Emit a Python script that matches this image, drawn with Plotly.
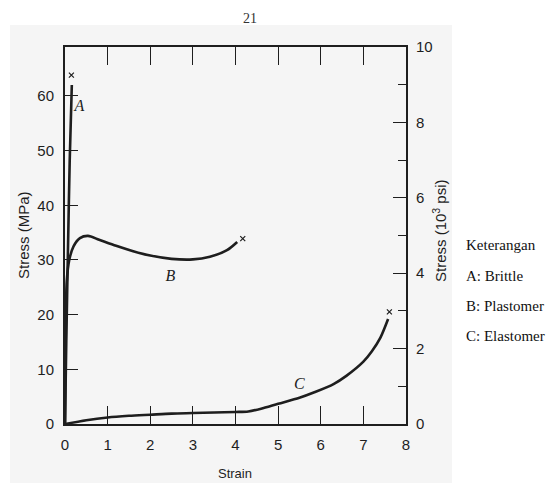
import plotly.graph_objects as go

# ---------------- data ----------------
strain_ticks = [0, 1, 2, 3, 4, 5, 6, 7, 8]
mpa_ticks = [0, 10, 20, 30, 40, 50, 60]
psi_ticks = [0, 2, 4, 6, 8, 10]

a_strain = [0, 0.03, 0.07, 0.11, 0.16]
a_stress = [0, 15, 32, 48, 62]

b_strain = [0, 0.015, 0.04, 0.1, 0.2, 0.35, 0.54, 0.8, 1.2, 1.6, 2.0, 2.5, 3.0, 3.4, 3.8, 4.04]
b_stress = [0, 14, 26, 30, 32.5, 34, 34.4, 33.7, 32.6, 31.6, 30.8, 30.2, 30.1, 30.6, 31.8, 33.3]

c_strain = [0, 0.5, 1.0, 1.5, 2.0, 2.5, 3.0, 3.5, 4.0, 4.3, 4.6, 5.0, 5.5, 5.85, 6.3, 6.6, 7.0, 7.2, 7.4, 7.58]
c_stress = [0, 0.7, 1.2, 1.5, 1.7, 1.9, 2.0, 2.1, 2.2, 2.3, 2.8, 3.7, 4.8, 5.8, 7.3, 8.8, 11.4, 13.3, 15.8, 19.2]

break_strain = [0.15, 4.17, 7.61]
break_stress = [63.8, 33.9, 20.5]

curve_labels = ["A", "B", "C"]
label_strain = [0.34, 2.47, 5.5]
label_stress = [58.0, 26.9, 7.2]

legend_lines = ["Keterangan", "A: Brittle", "B: Plastomer", "C: Elastomer"]
page_number = "21"

# ---------------- layout helpers ----------------
W, H = 557, 483
L, R, T, B = 65, 151, 47, 59
PW, PH = W - L - R, H - T - B
MPA_MAX = 68.95  # 10 ksi in MPa


def px(x, y):
    return (x - L) / PW, (H - B - y) / PH


INK = "#1e1e1e"
SANS = "Liberation Sans Narrow, Liberation Sans, Arial, sans-serif"
SANS_W = "Liberation Sans, Arial, sans-serif"
SERIF = "Liberation Serif, Times New Roman, serif"

fig = go.Figure()
for xs, ys in [(a_strain, a_stress), (b_strain, b_stress), (c_strain, c_stress)]:
    fig.add_trace(go.Scatter(x=xs, y=ys, mode="lines", line=dict(color=INK, width=2.6, shape="spline", smoothing=0.8),
                             showlegend=False, hoverinfo="skip"))
fig.add_trace(go.Scatter(x=break_strain, y=break_stress, mode="markers",
                         marker=dict(symbol="x-thin", size=5, line=dict(color=INK, width=1.2)),
                         showlegend=False, hoverinfo="skip"))
fig.add_trace(go.Scatter(x=label_strain, y=label_stress, mode="text", text=curve_labels,
                         textfont=dict(family=SERIF, size=16, color=INK, style="italic"),
                         showlegend=False, hoverinfo="skip"))
# empty trace so the right-hand axis is drawn
fig.add_trace(go.Scatter(x=[0], y=[0], yaxis="y2", mode="markers", marker=dict(opacity=0),
                         showlegend=False, hoverinfo="skip"))

annotations = []
# axis titles
x0, y0 = px(23, 235)
annotations.append(dict(x=x0, y=y0, text="Stress (MPa)", textangle=-90, showarrow=False,
                        font=dict(family=SANS_W, size=15, color=INK), xanchor="center", yanchor="middle"))
x0, y0 = px(439, 230)
annotations.append(dict(x=x0, y=y0, text="Stress (10<sup>3</sup> psi)", textangle=-90, showarrow=False,
                        font=dict(family=SANS_W, size=15, color=INK), xanchor="center", yanchor="middle"))
x0, y0 = px(235, 473)
annotations.append(dict(x=x0, y=y0, text="Strain", showarrow=False,
                        font=dict(family=SANS_W, size=13, color=INK), xanchor="center", yanchor="middle"))
# page number
x0, y0 = px(250, 19)
annotations.append(dict(x=x0, y=y0, text=page_number, showarrow=False,
                        font=dict(family=SERIF, size=14, color="#333"), xanchor="center", yanchor="middle"))
# legend text
for txt, yy in zip(legend_lines, [245, 276, 306, 336]):
    x0, y0 = px(464, yy)
    annotations.append(dict(x=x0, y=y0, text=txt, showarrow=False,
                            font=dict(family=SERIF, size=15, color="#111"), xanchor="left", yanchor="middle"))
for a in annotations:
    a.update(xref="paper", yref="paper")

sx0, sy0 = px(10, 25)
sx1, sy1 = px(452, 483)

fig.update_layout(
    width=W, height=H,
    margin=dict(l=L, r=R, t=T, b=B, pad=0),
    paper_bgcolor="white", plot_bgcolor="rgba(0,0,0,0)",
    shapes=[dict(type="rect", xref="paper", yref="paper", x0=sx0, y0=sy1, x1=sx1, y1=sy0,
                 fillcolor="#f5f5f5", line=dict(width=0), layer="below")],
    annotations=annotations,
    xaxis=dict(range=[0, 8], tickvals=strain_ticks, ticktext=[str(v) for v in strain_ticks],
               ticks="inside", ticklen=18, tickwidth=1.4, tickcolor=INK,
               showline=True, linewidth=2, linecolor=INK, mirror="ticks",
               showgrid=False, zeroline=False, ticklabelstandoff=6,
               tickfont=dict(family=SANS, size=15, color=INK)),
    yaxis=dict(range=[0, MPA_MAX], tickvals=mpa_ticks, ticktext=[str(v) for v in mpa_ticks],
               ticks="inside", ticklen=13, tickwidth=1.4, tickcolor=INK,
               showline=True, linewidth=2, linecolor=INK,
               showgrid=False, zeroline=False, ticklabelstandoff=6,
               tickfont=dict(family=SANS, size=15, color=INK)),
    yaxis2=dict(range=[0, 10], overlaying="y", side="right", tickvals=psi_ticks,
                ticktext=[str(v) for v in psi_ticks],
                ticks="inside", ticklen=13, tickwidth=1.4, tickcolor=INK,
                minor=dict(dtick=1, ticks="inside", ticklen=8, tickwidth=1.4, tickcolor=INK),
                showline=True, linewidth=2, linecolor=INK,
                showgrid=False, zeroline=False, ticklabelstandoff=5,
                tickfont=dict(family=SANS, size=15, color=INK)),
)

fig.write_html("out.html")
